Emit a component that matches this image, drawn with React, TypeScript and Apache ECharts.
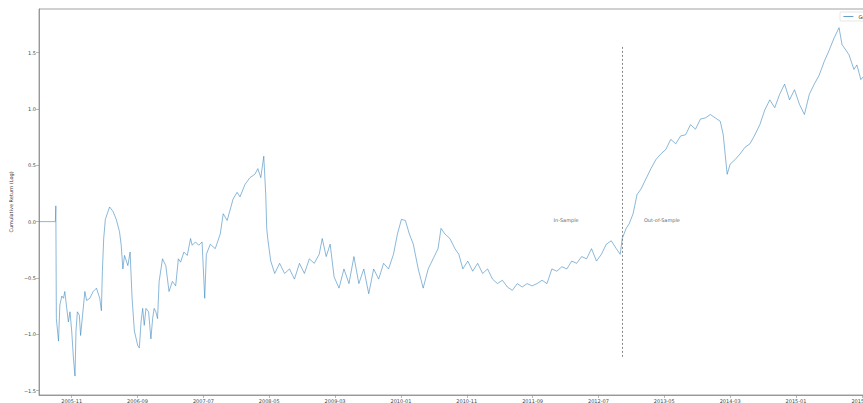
import React, { useEffect, useRef } from "react";
import * as echarts from "echarts";

// x: months since 2005-11 (first tick), y: cumulative log return
const months = [
  -4.96, -2.48, -2.41, -2.33, -2.0, -1.8, -1.5, -1.25, -1.05, -0.75, -0.5, -0.26, 0, 0.26, 0.5, 0.65, 0.86, 1.16, 1.35, 1.65,
  2.0, 2.26, 2.75, 3.26, 3.76, 4.26, 4.51, 4.66, 4.86, 5.11, 5.52, 5.76, 6.27, 6.77, 7.26, 7.52, 7.77, 8.02, 8.53, 8.87,
  9.17, 9.52, 10.03, 10.27, 10.53, 10.78, 11.02, 11.28, 11.68, 12.03, 12.29, 12.53, 12.78, 13.04, 13.28, 13.79, 14.29, 14.78, 15.29, 15.79,
  16.2, 16.54, 17.04, 17.55, 18.05, 18.3, 18.8, 19.29, 19.8, 20.2, 20.45, 21.05, 21.8, 22.56, 23.01, 23.61, 24.51, 25.11, 25.56, 26.32,
  27.07, 27.82, 28.27, 28.72, 29.17, 29.47, 29.62, 29.77, 30.23, 30.83, 31.58, 32.33, 33.08, 33.83, 34.59, 35.34, 36.09, 36.84, 37.59, 38.05,
  38.65, 39.25, 39.85, 40.6, 41.35, 42.11, 42.86, 43.61, 44.36, 45.11, 45.86, 46.62, 47.37, 48.12, 48.87, 49.47, 50.08, 50.68, 51.28, 51.88,
  52.63, 53.38, 54.14, 54.89, 55.64, 56.09, 56.69, 57.44, 58.2, 58.8, 59.4, 60.15, 60.9, 61.65, 62.41, 63.16, 63.91, 64.66, 65.41, 66.17,
  66.92, 67.67, 68.42, 69.17, 69.92, 70.68, 71.43, 72.18, 72.93, 73.68, 74.44, 75.19, 75.94, 76.69, 77.44, 78.2, 78.95, 79.7, 80.45, 81.2,
  81.95, 82.71, 83.31, 83.61, 84.21, 84.66, 85.26, 85.86, 86.47, 87.22, 87.97, 88.72, 89.47, 90.23, 90.98, 91.73, 92.48, 93.23, 93.98, 94.74,
  95.49, 96.24, 96.99, 97.74, 98.5, 98.95, 99.55, 100.0, 100.75, 101.5, 102.26, 103.01, 103.76, 104.51, 105.26, 106.02, 106.77, 107.52, 108.27, 109.02,
  109.77, 110.53, 111.28, 112.03, 112.78, 113.53, 114.29, 115.04, 115.79, 116.54, 116.99, 117.59, 118.05, 118.8, 119.25, 119.85, 120.45
];

const cumReturn = [
  0.0, 0.0, 0.14, -0.86, -1.06, -0.74, -0.66, -0.68, -0.62, -0.77, -0.89, -0.8, -0.97, -1.21, -1.37, -0.97, -0.8, -0.83, -1.01, -0.83,
  -0.62, -0.7, -0.68, -0.62, -0.59, -0.68, -0.79, -0.44, -0.15, 0.02, 0.09, 0.13, 0.09, 0.02, -0.09, -0.21, -0.42, -0.3, -0.39, -0.27,
  -0.68, -0.97, -1.1, -1.12, -0.89, -0.77, -0.92, -0.77, -0.8, -1.04, -0.86, -0.77, -0.8, -0.86, -0.53, -0.33, -0.39, -0.62, -0.53, -0.57,
  -0.33, -0.36, -0.27, -0.3, -0.15, -0.21, -0.18, -0.21, -0.18, -0.68, -0.29, -0.2, -0.24, -0.11, 0.07, 0.01, 0.2, 0.26, 0.22, 0.33,
  0.39, 0.42, 0.47, 0.39, 0.58, 0.24, -0.06, -0.15, -0.35, -0.46, -0.37, -0.46, -0.42, -0.51, -0.37, -0.46, -0.33, -0.37, -0.29, -0.15,
  -0.31, -0.2, -0.49, -0.59, -0.42, -0.55, -0.31, -0.55, -0.42, -0.64, -0.42, -0.51, -0.37, -0.42, -0.29, -0.11, 0.02, 0.01, -0.11, -0.2,
  -0.42, -0.59, -0.42, -0.33, -0.24, -0.06, -0.11, -0.15, -0.24, -0.29, -0.42, -0.35, -0.44, -0.37, -0.46, -0.42, -0.51, -0.55, -0.52, -0.58,
  -0.61, -0.55, -0.58, -0.55, -0.57, -0.55, -0.52, -0.55, -0.42, -0.44, -0.4, -0.42, -0.35, -0.37, -0.31, -0.33, -0.24, -0.35, -0.29, -0.2,
  -0.17, -0.24, -0.29, -0.15, -0.06, -0.02, 0.07, 0.24, 0.29, 0.38, 0.47, 0.55, 0.6, 0.64, 0.73, 0.69, 0.76, 0.77, 0.86, 0.82,
  0.91, 0.92, 0.95, 0.92, 0.89, 0.77, 0.42, 0.51, 0.55, 0.6, 0.66, 0.69, 0.77, 0.86, 0.99, 1.08, 1.01, 1.13, 1.22, 1.08,
  1.17, 1.04, 0.95, 1.13, 1.22, 1.3, 1.42, 1.52, 1.63, 1.72, 1.57, 1.52, 1.48, 1.35, 1.39, 1.26, 1.3
];

const xTickMonths = [0, 10, 20, 30, 40, 50, 60, 70, 80, 90, 100, 110, 120];
const xTickLabels = [
  "2005-11", "2006-09", "2007-07", "2008-05", "2009-03", "2010-01", "2010-11",
  "2011-09", "2012-07", "2013-05", "2014-03", "2015-01", "2015-11"
];
const yTicks = [-1.5, -1.0, -0.5, 0.0, 0.5, 1.0, 1.5];

const seriesName = "Growth";
const yAxisName = "Cumulative Return (Log)";
const splitMonth = 83.6;
const splitTop = 1.55;
const splitBottom = -1.2;
const inSampleLabel = { month: 77.0, value: 0.015, text: "In-Sample" };
const outSampleLabel = { month: 86.9, value: 0.015, text: "Out-of-Sample" };

const fmtNum = (v: number) => (v < 0 ? "\u2212" + Math.abs(v).toFixed(1) : v.toFixed(1));

export default function App() {
  const ref = useRef<HTMLDivElement>(null);
  useEffect(() => {
    if (!ref.current) return;
    const chart = echarts.init(ref.current, undefined, { renderer: "svg" });
    const lineData = months.map((m, i) => [m, cumReturn[i]]);
    chart.setOption({
      animation: false,
      backgroundColor: "#ffffff",
      textStyle: { fontFamily: "DejaVu Sans" },
      grid: {
        left: 32,
        top: 9,
        right: 25,
        bottom: 6,
        show: true,
        borderColor: "#8a8a8a",
        borderWidth: 0.8,
        backgroundColor: "transparent",
      },
      legend: {
        data: [seriesName],
        left: 840,
        top: 12,
        itemWidth: 10,
        itemHeight: 5,
        itemGap: 2,
        padding: [2, 3],
        borderColor: "#d6d6d6",
        borderWidth: 0.6,
        borderRadius: 1,
        itemStyle: { opacity: 0 },
        lineStyle: { width: 0.8 },
        textStyle: { fontSize: 5, color: "#333" },
      },
      xAxis: {
        type: "value",
        min: -4.96,
        max: 122,
        axisLine: { show: true, onZero: false, lineStyle: { color: "#8a8a8a", width: 0.8 } },
        axisTick: { show: true, length: 3, customValues: xTickMonths, lineStyle: { color: "#8a8a8a", width: 0.6 } },
        axisLabel: {
          customValues: xTickMonths,
          fontSize: 5,
          color: "#444",
          margin: 3,
          formatter: (v: number) => {
            const idx = xTickMonths.indexOf(Math.round(v));
            return idx >= 0 ? xTickLabels[idx] : "";
          },
        },
        splitLine: { show: false },
      },
      yAxis: {
        type: "value",
        min: -1.538,
        max: 1.886,
        name: yAxisName,
        nameLocation: "middle",
        nameGap: 19,
        nameRotate: 90,
        nameTextStyle: { fontSize: 5, color: "#333" },
        axisLine: { show: true, onZero: false, lineStyle: { color: "#8a8a8a", width: 0.8 } },
        axisTick: { show: true, length: 3, customValues: yTicks, lineStyle: { color: "#8a8a8a", width: 0.6 } },
        axisLabel: {
          customValues: yTicks,
          fontSize: 5,
          color: "#444",
          margin: 3,
          formatter: (v: number) => fmtNum(v),
        },
        splitLine: { show: false },
      },
      series: [
        {
          name: seriesName,
          type: "line",
          data: lineData,
          showSymbol: false,
          symbol: "none",
          color: "#3d88c0",
          lineStyle: { color: "#3d88c0", width: 0.6 },
          itemStyle: { color: "#3d88c0" },
          markLine: {
            silent: true,
            symbol: "none",
            label: { show: false },
            lineStyle: { color: "#555", type: [2, 2], width: 0.7 },
            data: [[{ coord: [splitMonth, splitTop] }, { coord: [splitMonth, splitBottom] }]],
          },
        },
        {
          name: "annotations",
          type: "scatter",
          symbolSize: 0,
          silent: true,
          data: [
            {
              value: [inSampleLabel.month, inSampleLabel.value],
              label: { show: true, position: "left", distance: 0, formatter: inSampleLabel.text },
            },
            {
              value: [outSampleLabel.month, outSampleLabel.value],
              label: { show: true, position: "right", distance: 0, formatter: outSampleLabel.text },
            },
          ],
          label: { fontSize: 5, color: "#333" },
        },
      ],
    });
    return () => chart.dispose();
  }, []);
  return (
    <div
      style={{
        position: "fixed",
        left: 0,
        top: 0,
        width: 863,
        height: 403,
        overflow: "hidden",
        background: "#fff",
      }}
    >
      <div ref={ref} style={{ width: 900, height: 403 }} />
    </div>
  );
}
